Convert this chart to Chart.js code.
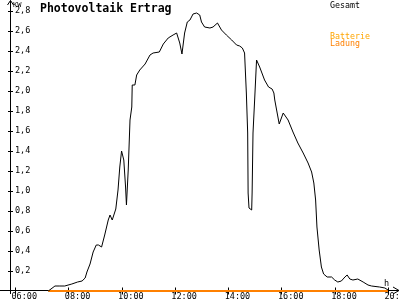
<!DOCTYPE html>
<html>
<head>
<meta charset="utf-8">
<script src="https://cdn.jsdelivr.net/npm/chart.js@4/dist/chart.umd.min.js"></script>
<style>
  html, body { margin: 0; padding: 0; background: #fff; }
  #wrap { width: 400px; height: 300px; }
</style>
</head>
<body>
<div id="wrap"><canvas id="pvChart" width="400" height="300"></canvas></div>
<script>
// Gesamt (kW)
const gesamtTimes = ['07:15','07:30','07:41','07:52','08:08','08:21','08:31','08:38','08:42','08:49',
  '08:56','09:03','09:08','09:15','09:22','09:30','09:34','09:39','09:47','09:52',
  '09:56','10:00','10:05','10:09','10:11','10:15','10:19','10:23','10:24','10:30',
  '10:34','10:41','10:53','11:04','11:11','11:25','11:34','11:45','11:56','12:04',
  '12:11','12:16','12:22','12:28','12:34','12:41','12:49','12:56','13:00','13:07',
  '13:19','13:26','13:36','13:45','13:56','14:08','14:19','14:26','14:32','14:37',
  '14:41','14:44','14:45','14:47','14:53','14:54','14:56','15:00','15:04','15:11',
  '15:22','15:31','15:39','15:43','15:45','15:55','16:04','16:15','16:26','16:37',
  '16:49','17:00','17:08','17:13','17:17','17:20','17:25','17:30','17:35','17:43',
  '17:53','18:00','18:07','18:15','18:23','18:28','18:34','18:41','18:52','19:04',
  '19:15','19:23','19:41','19:53','20:00'];
const gesamtValues = [0.00,0.05,0.05,0.05,0.07,0.09,0.10,0.13,0.19,0.27,
  0.39,0.46,0.46,0.44,0.56,0.71,0.76,0.71,0.82,1.01,
  1.24,1.40,1.31,1.04,0.86,1.21,1.71,1.84,2.06,2.06,
  2.16,2.21,2.27,2.36,2.38,2.39,2.47,2.53,2.56,2.58,
  2.48,2.37,2.58,2.69,2.71,2.77,2.78,2.76,2.69,2.64,
  2.63,2.64,2.68,2.61,2.56,2.51,2.46,2.45,2.43,2.38,
  1.98,1.58,0.98,0.83,0.81,0.98,1.58,1.94,2.31,2.24,
  2.11,2.04,2.02,1.98,1.91,1.67,1.78,1.71,1.59,1.48,
  1.38,1.28,1.19,1.08,0.91,0.64,0.41,0.24,0.17,0.14,
  0.14,0.11,0.09,0.10,0.14,0.16,0.12,0.11,0.12,0.09,
  0.06,0.05,0.04,0.03,0.01];

// Batterie Ladung (kW)
const batterieTimes = ['07:15','20:00'];
const batterieValues = [0, 0];

const seriesNames = ['Gesamt', 'Batterie Ladung'];
const titleText = 'Photovoltaik Ertrag';

const yTicks = [0.2,0.4,0.6,0.8,1.0,1.2,1.4,1.6,1.8,2.0,2.2,2.4,2.6,2.8];
const xTickLabels = ['06:00','08:00','10:00','12:00','14:00','16:00','18:00','20:00'];

function toHours(s) {
    const [h, m] = s.split(':').map(Number);
    return h + m / 60;
}
function toPoints(times, values) {
    return times.map((t, i) => ({ x: toHours(t), y: values[i] }));
}

const FONT = '"DejaVu Sans Mono", monospace';

// Achsen im Stil der Vorlage (Pfeile, Kreuz-Ticks)
const axesPlugin = {
    id: 'axesPlugin',
    beforeDatasetsDraw(chart) {
        const { ctx, scales } = chart;
        const xs = scales.x, ys = scales.y;
        const x0 = Math.round(xs.getPixelForValue(xs.min)) + 0.5;
        const y0 = Math.round(ys.getPixelForValue(0)) - 0.5;
        ctx.save();
        ctx.strokeStyle = '#000';
        ctx.fillStyle = '#000';
        ctx.lineWidth = 1;
        ctx.beginPath();
        // x-Achse mit Pfeil
        ctx.moveTo(0, y0); ctx.lineTo(399, y0);
        ctx.moveTo(393, y0 - 3.5); ctx.lineTo(399, y0); ctx.lineTo(393, y0 + 3.5);
        // y-Achse mit Pfeil
        ctx.moveTo(x0, 0.5); ctx.lineTo(x0, 294);
        ctx.moveTo(x0 - 3, 5); ctx.lineTo(x0, 0.5); ctx.lineTo(x0 + 3, 5);
        // y-Ticks
        yTicks.forEach(v => {
            const py = Math.round(ys.getPixelForValue(v)) + 0.5;
            ctx.moveTo(x0 - 2.5, py); ctx.lineTo(x0 + 2.5, py);
        });
        // x-Ticks
        xTickLabels.forEach(l => {
            const px = Math.round(xs.getPixelForValue(toHours(l))) + 0.5;
            ctx.moveTo(px, y0 - 3); ctx.lineTo(px, y0 + 4);
        });
        ctx.stroke();

        ctx.font = '8.5px ' + FONT;
        ctx.textBaseline = 'middle';
        ctx.textAlign = 'left';
        yTicks.forEach(v => {
            const py = ys.getPixelForValue(v);
            ctx.fillText(v.toFixed(1).replace('.', ','), x0 + 4.5, py);
        });
        xTickLabels.forEach(l => {
            const px = xs.getPixelForValue(toHours(l));
            ctx.fillText(l, px - 3.5, 296.5);
        });
        ctx.font = '7px ' + FONT;
        ctx.textBaseline = 'alphabetic';
        ctx.fillText('KW', x0 + 2.5, 7);
        ctx.font = '8.5px ' + FONT;
        ctx.fillText('h', 384, 286);
        ctx.restore();
    },
    afterDraw(chart) {
        const { ctx } = chart;
        ctx.save();
        ctx.textAlign = 'left';
        ctx.textBaseline = 'alphabetic';
        ctx.fillStyle = '#000';
        ctx.font = 'bold 11.5px ' + FONT;
        ctx.fillText(titleText, 40, 12);
        ctx.font = '8.3px ' + FONT;
        ctx.fillText(seriesNames[0], 330, 8);
        const parts = seriesNames[1].split(' ');
        ctx.fillStyle = '#ffa500';
        ctx.fillText(parts[0], 330, 39);
        ctx.fillStyle = '#ff8000';
        ctx.fillText(parts[1], 330, 46);
        ctx.restore();
    }
};

new Chart(document.getElementById('pvChart'), {
    type: 'line',
    data: {
        datasets: [
            {
                label: seriesNames[0],
                data: toPoints(gesamtTimes, gesamtValues),
                borderColor: '#000',
                borderWidth: 1,
                pointRadius: 0,
                tension: 0,
                clip: false
            },
            {
                label: seriesNames[1],
                data: toPoints(batterieTimes, batterieValues),
                borderColor: '#ff8000',
                borderWidth: 2,
                pointRadius: 0,
                tension: 0,
                clip: false
            }
        ]
    },
    options: {
        responsive: false,
        animation: false,
        devicePixelRatio: 1,
        layout: { padding: { left: 10, right: 12, top: 11, bottom: 9 } },
        scales: {
            x: { type: 'linear', min: 5.8125, max: 20, display: false },
            y: { type: 'linear', min: 0, max: 2.8, display: false }
        },
        plugins: {
            legend: { display: false },
            tooltip: { enabled: false }
        }
    },
    plugins: [axesPlugin]
});
</script>
</body>
</html>
